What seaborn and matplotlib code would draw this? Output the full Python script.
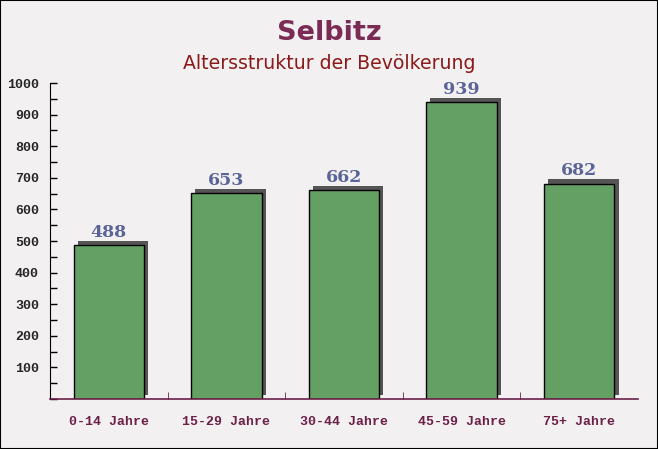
import matplotlib
matplotlib.use("Agg")
import matplotlib.pyplot as plt
import matplotlib.patheffects as pe
from matplotlib.ticker import MultipleLocator, FixedLocator
import seaborn as sns
import pandas as pd

# データ
categories = ["0-14 Jahre", "15-29 Jahre", "30-44 Jahre", "45-59 Jahre", "75+ Jahre"]
values = [488, 653, 662, 939, 682]
title = "Selbitz"
subtitle = "Altersstruktur der Bevölkerung"

BG = "#f3f0f1"
BAR = "#64a064"
LABEL = "#5a6496"

sns.set_style("white")
plt.rcParams["font.family"] = ["DejaVu Sans"]

df = pd.DataFrame({"Altersgruppe": categories, "Anzahl": values})

fig = plt.figure(figsize=(6.58, 4.49), dpi=100, facecolor=BG)
ax = fig.add_axes([0.076, 0.1114, 0.8936, 0.7036])
ax.set_facecolor("none")

sns.barplot(data=df, x="Altersgruppe", y="Anzahl", ax=ax, color=BAR,
            width=0.6, edgecolor="black", linewidth=1.0, saturation=1)

for p in ax.patches:
    p.set_path_effects([
        pe.SimplePatchShadow(offset=(3, 3), shadow_rgbFace="#555555", alpha=1.0),
        pe.Normal(),
    ])

for p, v in zip(ax.patches, values):
    ax.annotate(str(v), (p.get_x() + p.get_width() / 2, v), xytext=(0, 3),
                textcoords="offset points", ha="center", va="bottom",
                fontsize=12.5, fontweight="bold", color=LABEL, family="DejaVu Serif")

ax.set_ylim(0, 1000)
ax.set_xlim(-0.5, len(categories) - 0.5)
ax.yaxis.set_major_locator(FixedLocator(range(100, 1001, 100)))
ax.yaxis.set_minor_locator(MultipleLocator(50))
ax.set_xlabel("")
ax.set_ylabel("")

ax.tick_params(axis="y", which="both", direction="in", left=True, length=5,
               width=1, color="black", labelsize=9.5, pad=8)
ax.tick_params(axis="x", which="major", bottom=False, labelsize=9.5,
               labelcolor="#6b2048", pad=9)
ax.xaxis.set_minor_locator(FixedLocator([0.5, 1.5, 2.5, 3.5]))
ax.tick_params(axis="x", which="minor", bottom=True, direction="in", length=5,
               color="#6b2048")

for lab in ax.get_yticklabels() + ax.get_xticklabels():
    lab.set_family("Liberation Mono")
    lab.set_fontweight("bold")

for s in ["top", "right"]:
    ax.spines[s].set_visible(False)
ax.spines["left"].set_color("black")
ax.spines["bottom"].set_color("#6b2048")
ax.spines["bottom"].set_linewidth(1.2)

fig.text(0.5, 0.927, title, ha="center", va="center", fontsize=19.5,
         fontweight="bold", color="#7b2c55")
fig.text(0.5, 0.858, subtitle, ha="center", va="center", fontsize=13.6,
         color="#8b1a1a")

# 枠線
fig.patches.append(plt.Rectangle((0, 0), 1, 1, transform=fig.transFigure,
                                 fill=False, edgecolor="black", linewidth=1.5))

fig.savefig("out.png", dpi=100, facecolor=BG)
